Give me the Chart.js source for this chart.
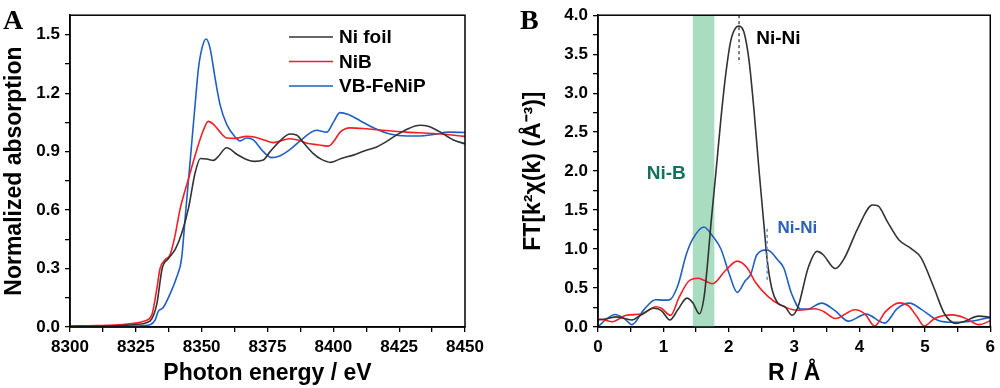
<!DOCTYPE html>
<html>
<head>
<meta charset="utf-8">
<script src="https://cdn.jsdelivr.net/npm/chart.js@4.4.0/dist/chart.umd.min.js"></script>
<style>
  html, body { margin: 0; padding: 0; background: #ffffff; }
  #wrap { position: relative; width: 1000px; height: 388px; overflow: hidden; }
  .panel { position: absolute; top: 0; width: 500px; height: 388px; }
</style>
</head>
<body>
<div id="wrap">
  <div class="panel" style="left:0"><canvas id="chartA" width="500" height="388"></canvas></div>
  <div class="panel" style="left:500px"><canvas id="chartB" width="500" height="388"></canvas></div>
</div>
<script>
// ---------- Panel A: XANES ----------
const seriesNames = ["Ni foil", "NiB", "VB-FeNiP"];
const seriesColors = ["#333333", "#f41f26", "#1f5fc2"];

const aNiFoilE = [8300, 8310, 8320, 8325, 8329, 8331, 8333, 8335, 8337.3, 8340, 8342.4, 8345, 8347.5, 8349.5, 8352, 8354.5, 8356, 8359.5, 8363.5, 8367, 8370, 8373.4, 8376, 8380, 8383.5, 8386, 8389, 8392.4, 8395.5, 8399, 8403, 8407.6, 8412, 8416.5, 8420, 8424, 8428, 8432.9, 8436, 8440, 8445.6, 8450];
const aNiFoilY = [0.003, 0.004, 0.008, 0.013, 0.022, 0.04, 0.12, 0.30, 0.35, 0.40, 0.48, 0.61, 0.79, 0.865, 0.862, 0.855, 0.87, 0.92, 0.885, 0.86, 0.85, 0.857, 0.90, 0.958, 0.99, 0.985, 0.94, 0.89, 0.86, 0.845, 0.865, 0.882, 0.905, 0.924, 0.95, 0.985, 1.015, 1.035, 1.03, 1.005, 0.96, 0.94];

const aNiBE = [8300, 8310, 8320, 8325, 8328, 8331, 8332.9, 8334.2, 8336.1, 8338, 8339.9, 8341.8, 8344.9, 8348.1, 8350.6, 8352.5, 8354.5, 8357, 8359.5, 8362.7, 8367, 8370, 8374, 8377.2, 8380, 8383.5, 8387, 8390, 8394, 8398, 8400, 8402.6, 8406.3, 8412.7, 8420, 8427.9, 8438, 8445, 8450];
const aNiBY = [0.005, 0.007, 0.012, 0.02, 0.03, 0.06, 0.19, 0.30, 0.345, 0.37, 0.47, 0.605, 0.756, 0.907, 1.008, 1.055, 1.04, 1.0, 0.97, 0.968, 0.978, 0.975, 0.958, 0.946, 0.955, 0.966, 0.958, 0.943, 0.935, 0.928, 0.95, 1.0, 1.022, 1.017, 1.008, 1.0, 0.993, 0.985, 0.978];

const aVBE = [8300, 8315, 8325, 8330.4, 8332.3, 8333.5, 8335.4, 8338, 8340.5, 8342.4, 8343.7, 8344.9, 8346.2, 8347.5, 8348.8, 8350.4, 8351.7, 8353.2, 8355.1, 8357, 8359.5, 8362.7, 8364.6, 8367.1, 8369.6, 8373.4, 8376.6, 8379.8, 8383.5, 8387.4, 8393.6, 8397.5, 8400, 8402.5, 8405.7, 8410, 8415.2, 8421.5, 8427.9, 8432.9, 8438, 8444, 8450];
const aVBY = [0.0, 0.002, 0.005, 0.012, 0.035, 0.08, 0.10, 0.17, 0.255, 0.354, 0.555, 0.74, 0.94, 1.14, 1.33, 1.445, 1.478, 1.43, 1.277, 1.14, 1.04, 0.975, 0.955, 0.97, 0.96, 0.90, 0.869, 0.879, 0.91, 0.955, 1.01, 1.0, 1.05, 1.10, 1.09, 1.06, 1.022, 0.99, 0.98, 0.98, 0.988, 1.0, 0.998];

// ---------- Panel B: FT-EXAFS ----------
const bNiFoilR = [0, 0.15, 0.28, 0.4, 0.52, 0.65, 0.85, 0.97, 1.1, 1.22, 1.36, 1.45, 1.55, 1.625, 1.676, 1.727, 1.80, 1.88, 1.955, 2.03, 2.107, 2.157, 2.233, 2.31, 2.385, 2.46, 2.537, 2.587, 2.66, 2.74, 2.866, 2.967, 3.06, 3.215, 3.35, 3.44, 3.63, 3.77, 3.97, 4.2, 4.28, 4.43, 4.6, 4.8, 4.94, 5.14, 5.3, 5.48, 5.6, 5.82, 5.95, 6];
const bNiFoilY = [0.09, 0.11, 0.13, 0.11, 0.09, 0.15, 0.24, 0.21, 0.09, 0.22, 0.37, 0.31, 0.17, 0.40, 0.82, 1.32, 1.95, 2.67, 3.25, 3.67, 3.84, 3.86, 3.78, 3.42, 2.79, 2.04, 1.32, 0.864, 0.487, 0.318, 0.255, 0.15, 0.26, 0.76, 0.97, 0.93, 0.75, 0.885, 1.26, 1.565, 1.556, 1.346, 1.12, 1.0, 0.89, 0.5, 0.17, 0.045, 0.07, 0.14, 0.13, 0.12];

const bNiBR = [0, 0.1, 0.22, 0.43, 0.68, 0.886, 0.97, 1.11, 1.24, 1.39, 1.53, 1.62, 1.75, 1.95, 2.13, 2.28, 2.41, 2.59, 2.77, 3.07, 3.32, 3.45, 3.63, 3.93, 4.08, 4.23, 4.4, 4.61, 4.75, 4.88, 4.99, 5.15, 5.42, 5.6, 5.83, 6];
const bNiBY = [0.105, 0.09, 0.068, 0.15, 0.17, 0.26, 0.24, 0.15, 0.38, 0.59, 0.625, 0.6, 0.555, 0.725, 0.845, 0.76, 0.57, 0.40, 0.29, 0.214, 0.235, 0.2, 0.109, 0.222, 0.17, 0.013, 0.2, 0.31, 0.27, 0.13, 0.013, 0.11, 0.155, 0.12, 0.03, 0.08];

const bVBR = [0, 0.13, 0.26, 0.4, 0.52, 0.7, 0.88, 1.0, 1.09, 1.22, 1.35, 1.45, 1.62, 1.75, 1.88, 2.0, 2.13, 2.25, 2.335, 2.43, 2.587, 2.76, 2.84, 2.96, 3.1, 3.2, 3.42, 3.62, 3.83, 4.1, 4.385, 4.58, 4.765, 4.94, 5.195, 5.44, 5.69, 6];
const bVBY = [0.005, 0.10, 0.16, 0.11, 0.03, 0.22, 0.35, 0.345, 0.348, 0.53, 0.93, 1.13, 1.283, 1.17, 1.0, 0.70, 0.444, 0.59, 0.675, 0.927, 0.99, 0.85, 0.76, 0.43, 0.23, 0.23, 0.306, 0.214, 0.075, 0.165, 0.05, 0.24, 0.306, 0.23, 0.088, 0.06, 0.07, 0.125];

// Annotations for panel B
const niBBand = [1.45, 1.78];
const niNiFoilMark = { r: 2.157, from: 3.38, to: 4.0 };
const niNiVBMark = { r: 2.587, from: 0.6, to: 1.26 };

const FONT = "'Liberation Sans', Arial, Helvetica, sans-serif";

function toPts(xs, ys) { return xs.map((x, i) => ({ x: x, y: ys[i] })); }

function makeDatasets(pairs) {
  return pairs.map((p, i) => ({
    label: seriesNames[i],
    data: toPts(p[0], p[1]),
    borderColor: seriesColors[i],
    backgroundColor: seriesColors[i],
    borderWidth: 1.6,
    pointRadius: 0,
    fill: false,
    cubicInterpolationMode: 'monotone'
  }));
}

function fmt(v, dec) { return v.toFixed(dec); }

const boxAndLegend = (legendX, legendY0, legendDy, letter, letterX) => ({
  id: 'boxLegend' + letter,
  afterDatasetsDraw(chart) {
    const ctx = chart.ctx, a = chart.chartArea;
    ctx.save();
    // frame
    ctx.strokeStyle = '#000';
    ctx.lineWidth = 1.5;
    ctx.strokeRect(a.left, a.top, a.right - a.left, a.bottom - a.top);
    // legend
    ctx.font = 'bold 19px ' + FONT;
    ctx.textBaseline = 'middle';
    ctx.textAlign = 'left';
    chart.data.datasets.forEach((ds, i) => {
      const y = legendY0 + i * legendDy;
      ctx.strokeStyle = ds.borderColor;
      ctx.lineWidth = 1.6;
      ctx.beginPath();
      ctx.moveTo(legendX, y);
      ctx.lineTo(legendX + 44, y);
      ctx.stroke();
      ctx.fillStyle = '#000';
      ctx.fillText(ds.label, legendX + 50, y + 1);
    });
    // panel letter
    ctx.font = 'bold 28px "Liberation Serif", "Times New Roman", serif';
    ctx.textBaseline = 'alphabetic';
    ctx.fillStyle = '#000';
    ctx.fillText(letter, letterX, 29);
    ctx.restore();
  }
});

function axisCommon(min, max, step, labelEvery, dec, title, fitKey, fitVal, titlePad) {
  return {
    type: 'linear',
    min: min, max: max,
    ticks: {
      stepSize: step,
      includeBounds: false,
      autoSkip: false,
      maxRotation: 0,
      color: '#000',
      font: { family: FONT, size: 17, weight: 'bold' },
      padding: 5,
      callback: (v) => {
        const k = Math.round((v - min) / step);
        return (k % labelEvery === 0) ? fmt(v, dec) : '';
      }
    },
    grid: { drawOnChartArea: false, drawTicks: true, tickLength: 5, color: '#000', lineWidth: 1.3 },
    border: { display: true, color: '#000', width: 1.5 },
    title: {
      display: true, text: title, color: '#000',
      font: { family: FONT, size: 23, weight: 'bold' },
      padding: titlePad
    },
    afterFit: (s) => { s[fitKey] = fitVal; }
  };
}

// Chart A
new Chart(document.getElementById('chartA'), {
  type: 'line',
  data: { datasets: makeDatasets([[aNiFoilE, aNiFoilY], [aNiBE, aNiBY], [aVBE, aVBY]]) },
  options: {
    responsive: false, animation: false, devicePixelRatio: 1,
    layout: { padding: { top: 9, right: 35, left: 0, bottom: 0 } },
    plugins: { legend: { display: false }, tooltip: { enabled: false } },
    scales: {
      x: axisCommon(8300, 8450, 12.5, 2, 0, 'Photon energy / eV', 'height', 61, { top: 0, bottom: 1 }),
      y: axisCommon(0, 1.6, 0.15, 2, 1, 'Normalized absorption', 'width', 70, { top: 1, bottom: 0 })
    }
  },
  plugins: [boxAndLegend(289, 37, 24.5, 'A', 3)]
});

// Chart B
const bandPlugin = {
  id: 'bandB',
  beforeDatasetsDraw(chart) {
    const ctx = chart.ctx, a = chart.chartArea, xs = chart.scales.x;
    const x0 = xs.getPixelForValue(niBBand[0]), x1 = xs.getPixelForValue(niBBand[1]);
    ctx.save();
    ctx.fillStyle = '#a9dcc0';
    ctx.fillRect(x0, a.top, x1 - x0, a.bottom - a.top);
    ctx.restore();
  },
  afterDatasetsDraw(chart) {
    const ctx = chart.ctx, xs = chart.scales.x, ys = chart.scales.y;
    ctx.save();
    // dashed markers
    ctx.setLineDash([3, 3]);
    ctx.lineWidth = 1.2;
    ctx.strokeStyle = '#222';
    let px = xs.getPixelForValue(niNiFoilMark.r);
    ctx.beginPath();
    ctx.moveTo(px, ys.getPixelForValue(niNiFoilMark.to));
    ctx.lineTo(px, ys.getPixelForValue(niNiFoilMark.from));
    ctx.stroke();
    ctx.strokeStyle = '#6f96d6';
    ctx.lineWidth = 1.6;
    px = xs.getPixelForValue(niNiVBMark.r);
    ctx.beginPath();
    ctx.moveTo(px, ys.getPixelForValue(niNiVBMark.to));
    ctx.lineTo(px, ys.getPixelForValue(niNiVBMark.from));
    ctx.stroke();
    ctx.setLineDash([]);
    // labels
    ctx.textBaseline = 'middle';
    ctx.textAlign = 'left';
    ctx.font = 'bold 19px ' + FONT;
    ctx.fillStyle = '#000';
    ctx.fillText('Ni-Ni', xs.getPixelForValue(2.42), ys.getPixelForValue(3.7));
    ctx.fillStyle = '#14705f';
    ctx.fillText('Ni-B', xs.getPixelForValue(0.745), ys.getPixelForValue(1.96));
    ctx.font = 'bold 17px ' + FONT;
    ctx.fillStyle = '#2a62b8';
    ctx.fillText('Ni-Ni', xs.getPixelForValue(2.745), ys.getPixelForValue(1.27));
    ctx.restore();
  }
};

new Chart(document.getElementById('chartB'), {
  type: 'line',
  data: { datasets: makeDatasets([[bNiFoilR, bNiFoilY], [bNiBR, bNiBY], [bVBR, bVBY]]) },
  options: {
    responsive: false, animation: false, devicePixelRatio: 1,
    layout: { padding: { top: 9, right: 7, left: 0, bottom: 0 } },
    plugins: { legend: { display: false }, tooltip: { enabled: false } },
    scales: {
      x: axisCommon(0, 6, 0.5, 2, 0, 'R / Å', 'height', 61, { top: 0, bottom: 1 }),
      y: axisCommon(0, 4, 0.25, 2, 1, 'FT[k²χ(k) (Å⁻³)]', 'width', 98, { top: 20, bottom: 0 })
    }
  },
  plugins: [bandPlugin, boxAndLegend(809, 56, 24.5, 'B', 20)]
});
</script>
</body>
</html>
